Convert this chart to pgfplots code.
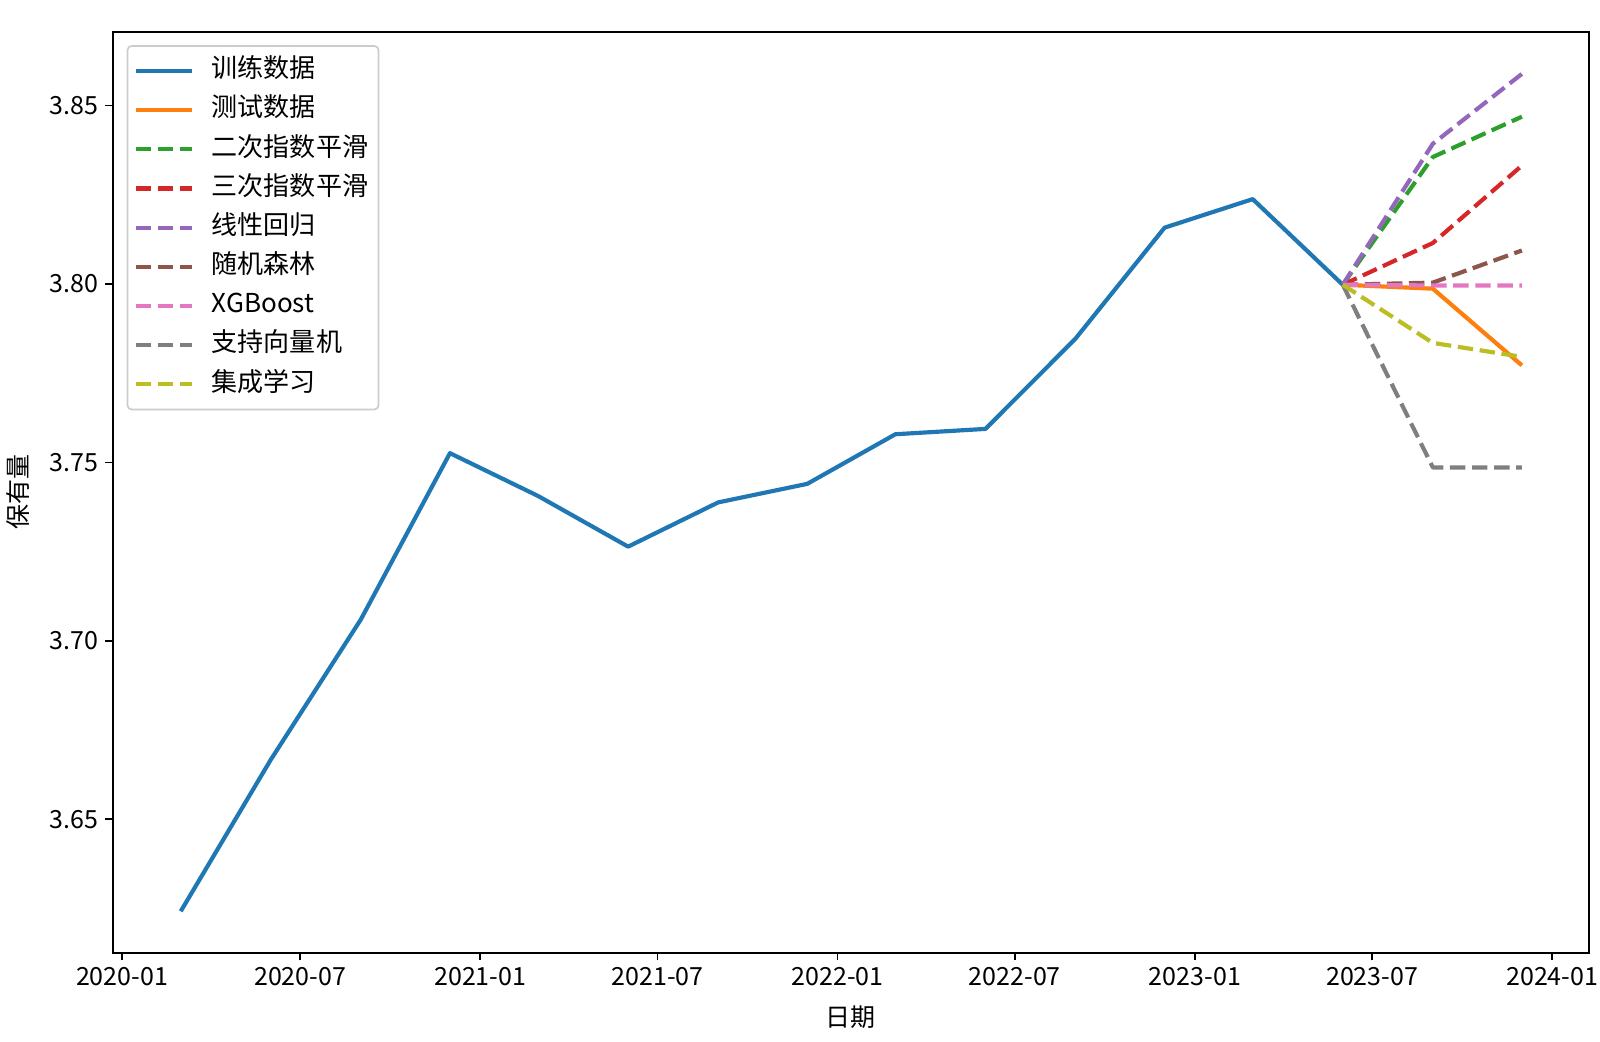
\documentclass[border=0pt]{standalone}
\usepackage{pgfplots}
\pgfplotsset{compat=1.18}
\usepgfplotslibrary{dateplot}
\usepackage{fontspec}
\setmainfont{Noto Sans CJK SC}

\definecolor{c0}{HTML}{1F77B4}
\definecolor{c1}{HTML}{FF7F0E}
\definecolor{c2}{HTML}{2CA02C}
\definecolor{c3}{HTML}{D62728}
\definecolor{c4}{HTML}{9467BD}
\definecolor{c5}{HTML}{8C564B}
\definecolor{c6}{HTML}{E377C2}
\definecolor{c7}{HTML}{7F7F7F}
\definecolor{c8}{HTML}{BCBD22}

\begin{document}
\begin{tikzpicture}
  \begin{axis}[
    scale only axis,
    width=708.6pt,
    height=442.2pt,
    date coordinates in=x,
    date ZERO=2020-01-01,
    xmin=2019-12-23 12:00,
    xmax=2024-02-07 12:00,
    ymin=3.6125,
    ymax=3.8707,
    xtick={2020-01-01,2020-07-01,2021-01-01,2021-07-01,2022-01-01,
           2022-07-01,2023-01-01,2023-07-01,2024-01-01},
    xticklabel=\year-\month,
    ytick={3.65,3.70,3.75,3.80,3.85},
    scaled y ticks=false,
    yticklabel style={/pgf/number format/fixed,
                      /pgf/number format/fixed zerofill,
                      /pgf/number format/precision=2},
    /pgf/number format/assume math mode=true,
    tick align=outside,
    xtick pos=left,
    ytick pos=left,
    major tick length=3.5pt,
    major tick style={line width=0.8pt,black},
    axis line style={line width=0.8pt},
    font=\fontsize{12}{14}\selectfont,
    tick label style={font=\fontsize{12}{14}\selectfont},
    xlabel={日期},
    ylabel={保有量},
    xlabel style={at={(axis description cs:0.5,-0.0701)},anchor=center},
    ylabel style={at={(axis description cs:-0.0639,0.5)},anchor=center},
    legend cell align={left},
    legend style={at={(0,1)},anchor=north west,xshift=6.7pt,yshift=-6.4pt,
                  draw=black!20,line width=0.8pt,rounded corners=2pt,
                  fill=white,fill opacity=0.8,text opacity=1,
                  font=\fontsize{12.5}{14}\selectfont,
                  inner xsep=3pt,inner ysep=4.3pt,
                  row sep=3.3pt,column sep=6.5pt,
                  nodes={inner sep=2pt,text height=9pt,text depth=2.5pt}},
    legend image code/.code={\draw[#1] (0pt,0pt) -- (27pt,0pt);},
    every axis plot/.append style={line width=2pt,line join=round},
    fc/.style={dash pattern=on 7.4pt off 3.2pt},
  ]
    % training data
    \addplot[c0] coordinates {
      (2020-03-01,3.6242) (2020-06-01,3.6667) (2020-09-01,3.7060)
      (2020-12-01,3.7526) (2021-03-01,3.7406) (2021-06-01,3.7264)
      (2021-09-01,3.7388) (2021-12-01,3.7440) (2022-03-01,3.7579)
      (2022-06-01,3.7594) (2022-09-01,3.7847) (2022-12-01,3.8158)
      (2023-03-01,3.8238) (2023-06-01,3.7998)
    };
    \addlegendentry{训练数据}
    % test data
    \addplot[c1] coordinates {
      (2023-06-01,3.7998) (2023-09-01,3.7987) (2023-12-01,3.7772)
    };
    \addlegendentry{测试数据}
    \addplot[c2,fc] coordinates {
      (2023-06-01,3.7998) (2023-09-01,3.8356) (2023-12-01,3.8469)
    };
    \addlegendentry{二次指数平滑}
    \addplot[c3,fc] coordinates {
      (2023-06-01,3.7998) (2023-09-01,3.8115) (2023-12-01,3.8332)
    };
    \addlegendentry{三次指数平滑}
    \addplot[c4,fc] coordinates {
      (2023-06-01,3.7998) (2023-09-01,3.8393) (2023-12-01,3.8589)
    };
    \addlegendentry{线性回归}
    \addplot[c5,fc] coordinates {
      (2023-06-01,3.7998) (2023-09-01,3.8004) (2023-12-01,3.8094)
    };
    \addlegendentry{随机森林}
    \addplot[c6,fc] coordinates {
      (2023-06-01,3.7998) (2023-09-01,3.7996) (2023-12-01,3.7996)
    };
    \addlegendentry{XGBoost}
    \addplot[c7,fc] coordinates {
      (2023-06-01,3.7998) (2023-09-01,3.7486) (2023-12-01,3.7486)
    };
    \addlegendentry{支持向量机}
    \addplot[c8,fc] coordinates {
      (2023-06-01,3.7998) (2023-09-01,3.7835) (2023-12-01,3.7796)
    };
    \addlegendentry{集成学习}
    \node[anchor=base west,inner sep=0pt,yshift=3.6pt,
          font=\fontsize{12}{14}\selectfont] at (rel axis cs:0,1) {1e6};
  \end{axis}
  \pgfresetboundingbox
  \path[use as bounding box] (-54.1pt,-42.7pt) rectangle (713.9pt,457.46pt);
\end{tikzpicture}
\end{document}
